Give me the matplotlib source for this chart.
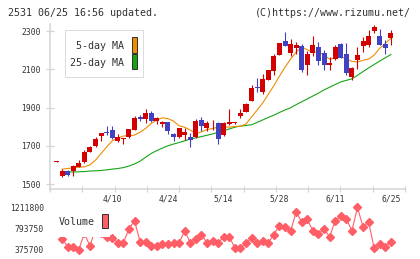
import matplotlib
matplotlib.use("Agg")
import matplotlib.pyplot as plt
from matplotlib.patches import Rectangle
import numpy as np

# ---------------- data ----------------
opens = [1616, 1542, 1568, 1568, 1590, 1615, 1667, 1698, 1751, 1774, 1782, 1724, 1735, 1745, 1782,
         1850, 1840, 1871, 1829, 1813, 1824, 1761, 1745, 1756, 1745, 1745, 1834, 1792, 1806, 1820,
         1756, 1813, 1818, 1855, 1876, 1933, 2008, 1980, 2043, 2090, 2174, 2247, 2184, 2210, 2220,
         2121, 2184, 2215, 2184, 2121, 2153, 2231, 2179, 2059, 2148, 2220, 2226, 2299, 2273, 2231, 2262]
highs = [1621, 1577, 1573, 1598, 1624, 1676, 1700, 1745, 1766, 1803, 1803, 1761, 1740, 1790, 1855,
         1860, 1892, 1881, 1850, 1829, 1824, 1766, 1792, 1792, 1766, 1840, 1850, 1829, 1834, 1825,
         1824, 1892, 1826, 1892, 1923, 2017, 2054, 2074, 2095, 2179, 2236, 2294, 2257, 2241, 2231,
         2195, 2273, 2241, 2200, 2163, 2226, 2236, 2236, 2111, 2215, 2268, 2304, 2330, 2309, 2252, 2304]
lows = [1616, 1535, 1542, 1542, 1590, 1608, 1667, 1693, 1725, 1756, 1735, 1719, 1709, 1740, 1782,
        1829, 1819, 1824, 1813, 1798, 1761, 1724, 1740, 1730, 1693, 1740, 1777, 1777, 1782, 1707,
        1750, 1808, 1816, 1845, 1876, 1933, 1980, 1970, 2043, 2069, 2174, 2220, 2168, 2179, 2085,
        2069, 2168, 2121, 2095, 2095, 2148, 2158, 2069, 2043, 2101, 2189, 2215, 2289, 2226, 2179, 2226]
closes = [1621, 1568, 1545, 1594, 1610, 1667, 1693, 1735, 1766, 1768, 1740, 1745, 1740, 1787, 1845,
          1840, 1871, 1829, 1845, 1824, 1777, 1745, 1792, 1771, 1730, 1829, 1803, 1819, 1810, 1733,
          1819, 1822, 1824, 1871, 1918, 2001, 2004, 2048, 2095, 2168, 2236, 2220, 2231, 2226, 2095,
          2179, 2226, 2142, 2121, 2132, 2215, 2158, 2080, 2106, 2174, 2247, 2273, 2320, 2226, 2210, 2289]

ma5 = [np.nan, 1578, 1581, 1585, 1588, 1590, 1600, 1625, 1660, 1694, 1726, 1740, 1751, 1752, 1756,
       1771, 1791, 1817, 1834, 1846, 1842, 1829, 1804, 1797, 1782, 1763, 1773, 1785, 1790, 1798,
       1799, 1797, 1801, 1802, 1814, 1851, 1887, 1924, 1969, 2014, 2064, 2111, 2153, 2190, 2216,
       2202, 2190, 2191, 2174, 2153, 2160, 2167, 2154, 2141, 2138, 2147, 2153, 2174, 2210, 2235, 2262]
ma25 = [np.nan, 1563, 1563, 1563, 1564, 1565, 1568, 1569, 1571, 1574, 1578, 1581, 1586, 1594, 1605,
        1620, 1640, 1660, 1675, 1688, 1700, 1709, 1717, 1726, 1735, 1742, 1748, 1755, 1762, 1770,
        1779, 1788, 1797, 1803, 1806, 1810, 1822, 1835, 1848, 1860, 1874, 1887, 1899, 1915, 1930,
        1945, 1960, 1975, 1992, 2006, 2020, 2034, 2042, 2050, 2068, 2088, 2107, 2125, 2143, 2160, 2177]

volume = [np.nan, 589000, 429000, 429000, 375700, 700000, 441000, 803000, 700000, 628000, 608000,
          509000, 509000, 788000, 947000, 529000, 529000, 455000, 455000, 481000, 481000,
          509000, 509000, 748000, 509000, 589000, 674000, 509000, 549000, 509000, 628000,
          628000, 409000, 409000, 509000, 608000, 509000, 549000, 509000, 674000, 853000,
          827000, 748000, 1118000, 927000, 973000, 748000, 688000, 788000, 628000, 947000,
          1039000, 987000, 748000, 1211800, 827000, 920000, 402000, 489000, 429000, 529000]

date_label_idx = [10, 20, 30, 40, 50, 60]
date_labels = ["4/10", "4/24", "5/14", "5/28", "6/11", "6/25"]
price_ticks = [1500, 1700, 1900, 2100, 2300]
vol_ticks = [375700, 793750, 1211800]
vol_tick_labels = ["375700", "793750", "1211800"]

title_left = "2531 06/25 16:56 updated."
title_right = "(C)https://www.rizumu.net/"
legend_labels = ["5-day MA", "25-day MA"]
volume_label = "Volume"

# ---------------- style ----------------
W, H = 420, 259
RED = "#d20000"
BLUE = "#4141c3"
ORANGE = "#f08c00"
GREEN = "#14a514"
VOLC = "#ff5e66"
AXC = "#d4d4d4"
TXT = "#333333"
MONO = ["DejaVu Sans Mono"]
PX = 0.72  # one pixel in points at dpi 100

def fx(px):
    return px / W

def fy(py):
    return 1 - py / H

fig = plt.figure(figsize=(W / 100, H / 100), dpi=100)
fig.patch.set_facecolor("white")

# ---------------- price axes ----------------
ax = fig.add_axes([fx(50), fy(189), fx(405) - fx(50), fy(24) - fy(189)])
x = np.arange(len(closes))
ax.set_xlim(-1.17, 62.53)
ax.set_ylim(1474, 2336.6)

for s in ["top", "right"]:
    ax.spines[s].set_visible(False)
for s in ["left", "bottom"]:
    ax.spines[s].set_color(AXC)
    ax.spines[s].set_linewidth(1.5 * PX)

body_w = 0.9
min_h = 5.0
for i in range(len(closes)):
    o, h, l, c = opens[i], highs[i], lows[i], closes[i]
    col = RED if c >= o else BLUE
    ax.vlines(x[i], l, h, color=col, lw=1.1 * PX, zorder=3)
    bot = min(o, c)
    hh = max(abs(c - o), min_h)
    ax.add_patch(Rectangle((x[i] - body_w / 2, bot), body_w, hh, facecolor=col,
                           edgecolor="none", zorder=4))

ax.plot(x, ma25, color=GREEN, lw=1.1 * PX, zorder=2)
ax.plot(x, ma5, color=ORANGE, lw=1.1 * PX, zorder=2)

ax.set_yticks(price_ticks)
ax.set_yticklabels([str(v) for v in price_ticks], family=MONO, fontsize=5.8, color=TXT)
ax.tick_params(axis="y", direction="inout", length=8 * PX, width=1.2 * PX, color=AXC, pad=4.0)

tick_pos = np.linspace(-1.17, 62.53, 12)
ax.set_xticks(tick_pos)
ax.set_xticklabels([])
ax.tick_params(axis="x", which="major", direction="inout", length=6 * PX, width=1.2 * PX, color=AXC)
ax.set_xticks(date_label_idx, minor=True)
ax.set_xticklabels(date_labels, minor=True, family=MONO, fontsize=5.8, color=TXT)
ax.tick_params(axis="x", which="minor", length=0, pad=3.6)

# ---------------- volume axes ----------------
vax = fig.add_axes([fx(50), fy(254), fx(405) - fx(50), fy(203) - fy(254)])
vax.set_xlim(-1.17, 62.53)
vax.set_ylim(286118, 1301382)
for s in vax.spines.values():
    s.set_visible(False)
vax.plot(x, volume, color=VOLC, lw=1.1 * PX, marker="D", markersize=3.6, zorder=3)
vax.set_xticks([])
vax.set_yticks(vol_ticks)
vax.set_yticklabels(vol_tick_labels, family=MONO, fontsize=5.8, color=TXT)
vax.tick_params(axis="y", length=0, pad=4.5)
vax.patch.set_alpha(0)

# ---------------- titles ----------------
fig.text(fx(8), fy(12.5), title_left, family=MONO, fontsize=7.2, color=TXT,
         ha="left", va="center")
fig.text(fx(410.5), fy(12.5), title_right, family=MONO, fontsize=7.2, color=TXT,
         ha="right", va="center")

# ---------------- main legend ----------------
fig.patches.append(Rectangle((fx(65), fy(77.3)), fx(143.3) - fx(65), fy(30) - fy(77.3),
                             transform=fig.transFigure, facecolor="white",
                             edgecolor="#dcdcdc", lw=1.0 * PX, zorder=5))
fig.text(fx(124.5), fy(46), legend_labels[0], family=MONO, fontsize=7.2, color=TXT,
         ha="right", va="center", zorder=6)
fig.text(fx(124.5), fy(63.3), legend_labels[1], family=MONO, fontsize=7.2, color=TXT,
         ha="right", va="center", zorder=6)
fig.patches.append(Rectangle((fx(131.7), fy(52.7)), fx(137.3) - fx(131.7), fy(36.7) - fy(52.7),
                             transform=fig.transFigure, facecolor=ORANGE,
                             edgecolor="#333333", lw=1.0 * PX, zorder=6))
fig.patches.append(Rectangle((fx(131.7), fy(69.3)), fx(137.3) - fx(131.7), fy(54) - fy(69.3),
                             transform=fig.transFigure, facecolor=GREEN,
                             edgecolor="#333333", lw=1.0 * PX, zorder=6))

# ---------------- volume legend ----------------
fig.patches.append(Rectangle((fx(55), fy(236.7)), fx(110) - fx(55), fy(206) - fy(236.7),
                             transform=fig.transFigure, facecolor="white",
                             edgecolor="none", zorder=5))
fig.text(fx(58.5), fy(222), volume_label, family=MONO, fontsize=7.2, color=TXT,
         ha="left", va="center", zorder=6)
fig.patches.append(Rectangle((fx(101.7), fy(228)), fx(108) - fx(101.7), fy(213.7) - fy(228),
                             transform=fig.transFigure, facecolor=VOLC,
                             edgecolor="#333333", lw=1.0 * PX, zorder=6))

fig.savefig("out.png", dpi=100, facecolor="white")
